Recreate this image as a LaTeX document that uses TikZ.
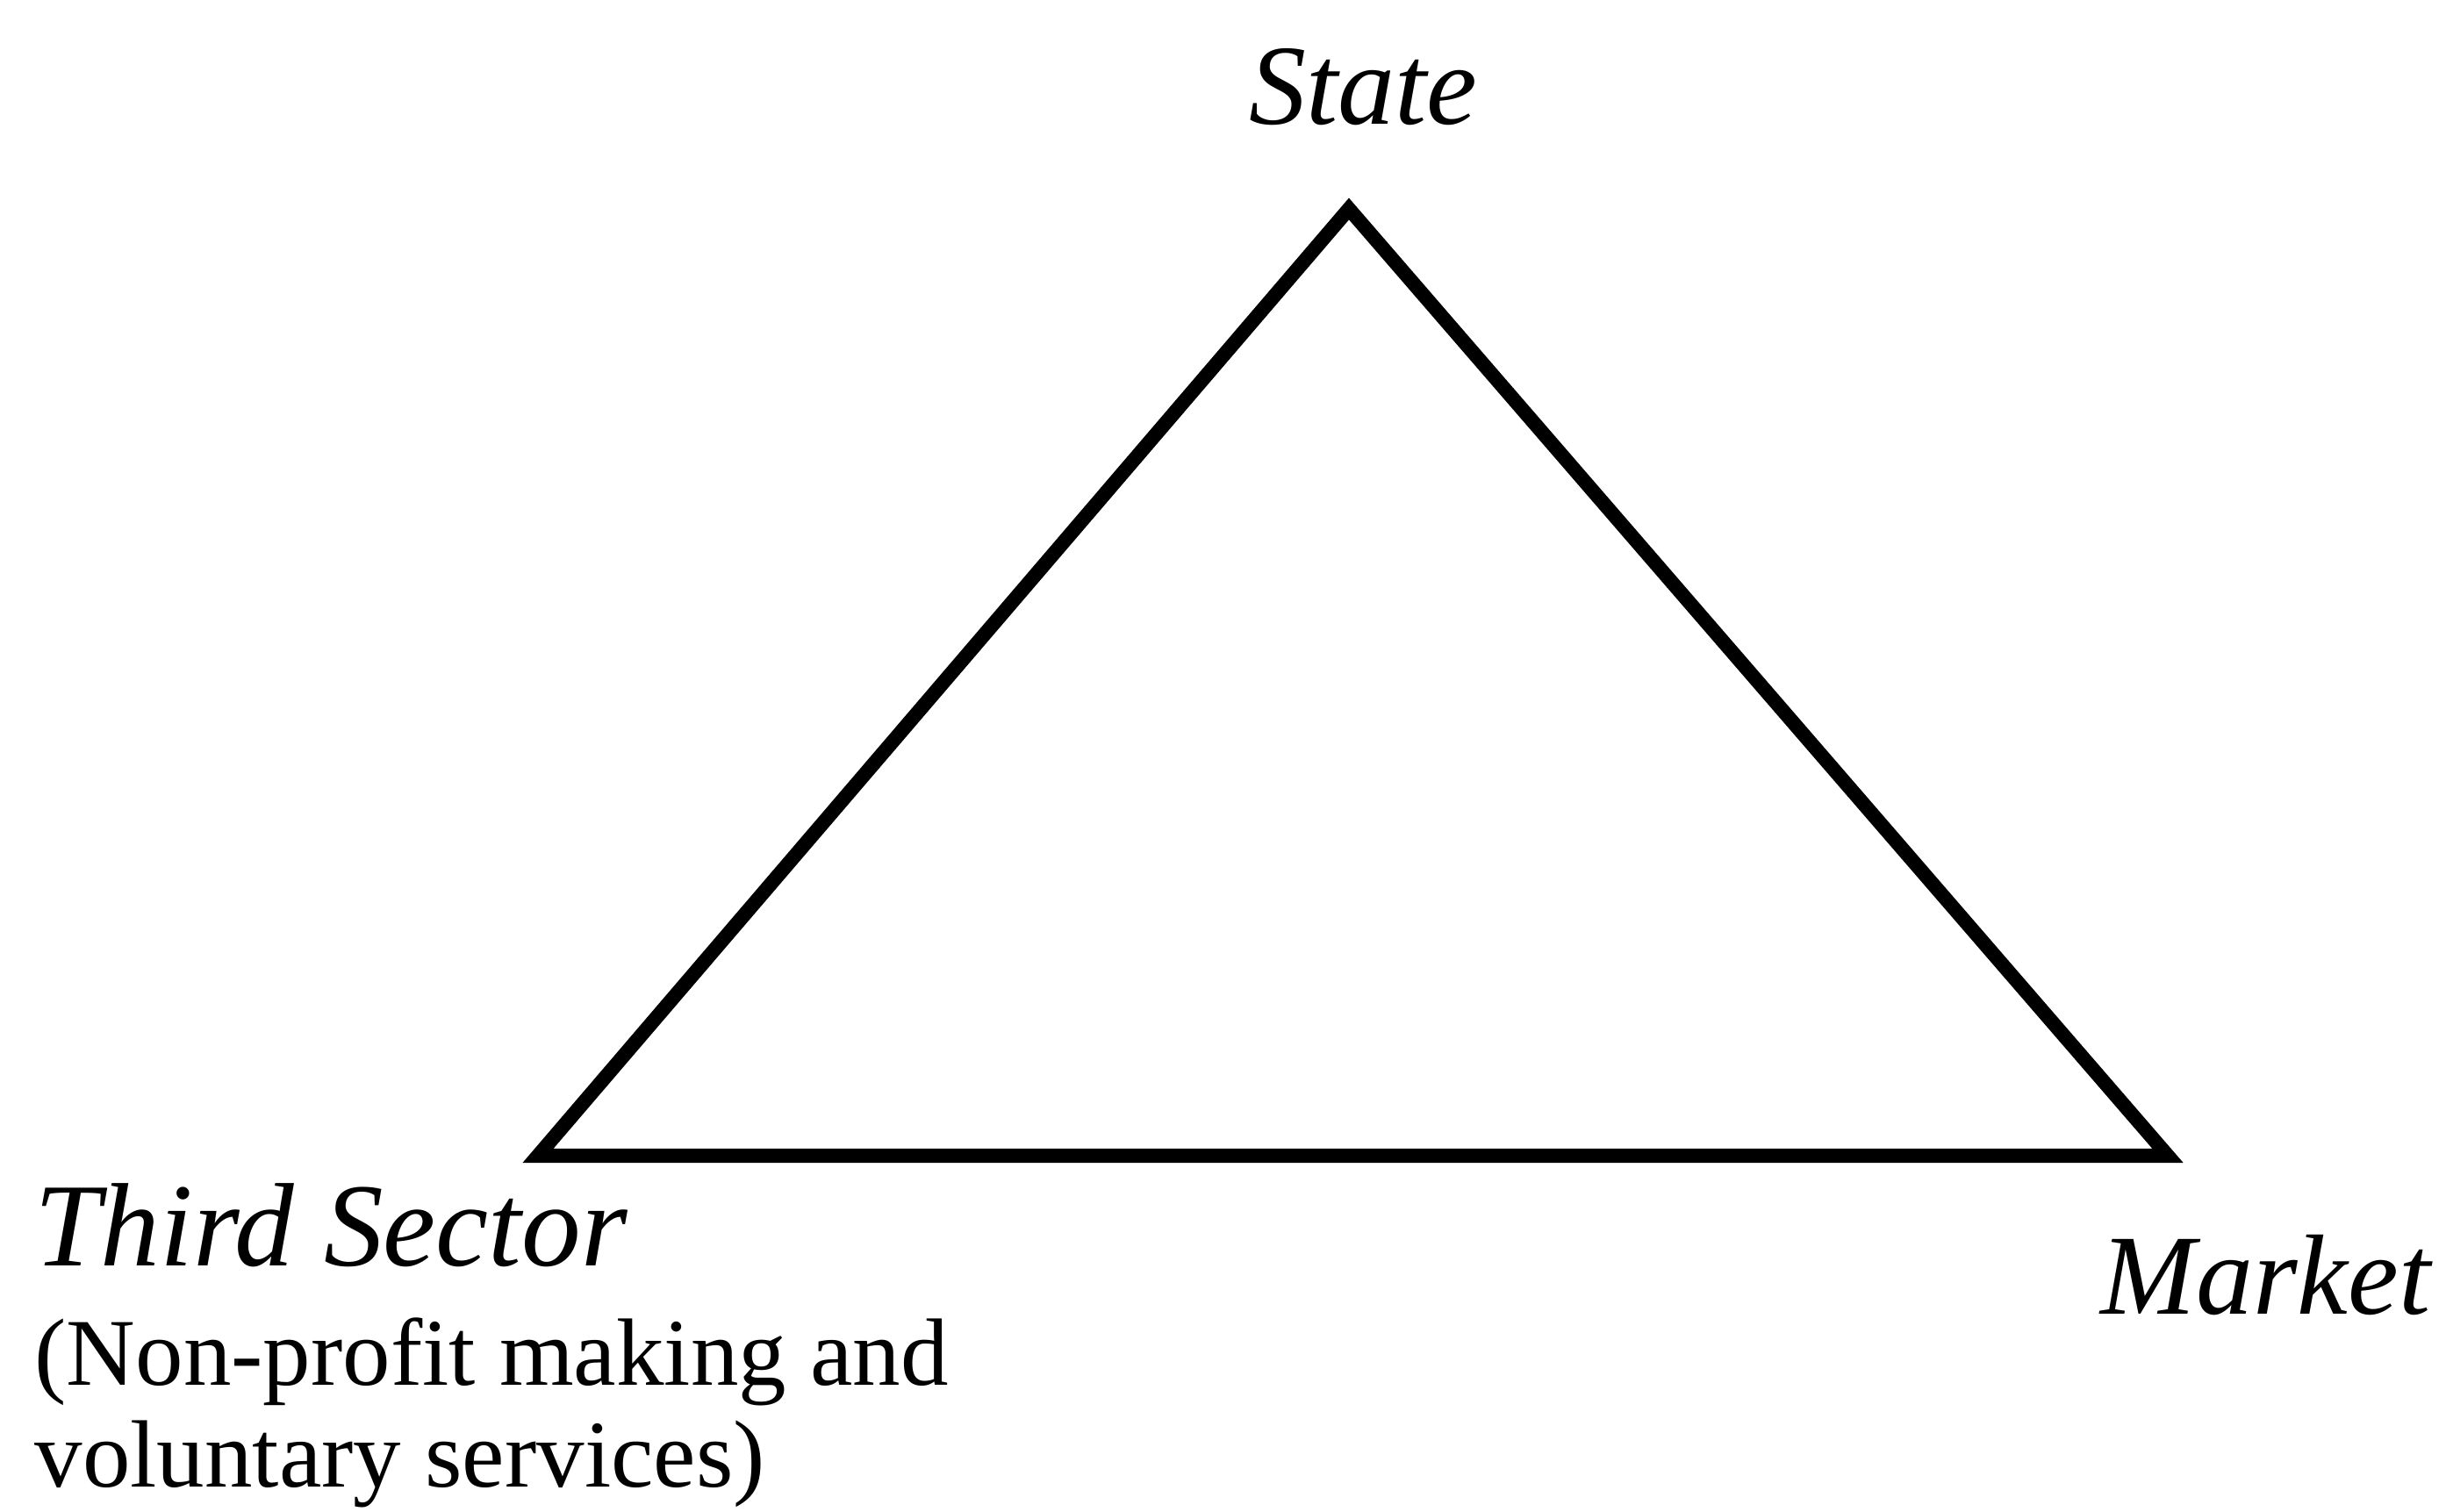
\documentclass[tikz,border=0pt]{standalone}
\usepackage{fontspec}
\setmainfont{Liberation Serif}
\usetikzlibrary{positioning}

\begin{document}
\begin{tikzpicture}[
    corner/.style={font=\itshape\fontsize{37}{40}\selectfont, inner sep=0pt},
    bigcorner/.style={font=\itshape\fontsize{38.5}{42}\selectfont, inner sep=0pt},
    note/.style={font=\fontsize{31}{32}\selectfont, inner sep=0pt, anchor=base west},
    side/.style={line width=4.6pt, line join=miter}
]
\useasboundingbox (0,0) rectangle (27.87,17.23);

\coordinate (apex) at (15.37,14.85);
\coordinate (tsc) at (6.13,4.06);
\coordinate (mkt) at (24.70,4.06);

\draw[side] (apex) -- (mkt) -- (tsc) -- cycle;

\node[corner, anchor=base] (state) at (15.53,15.81) {State};
\node[bigcorner, anchor=base west] (third) at (0.39,2.80) {Third Sector};
\node[note] (nonprofit) at (0.39,1.44) {(Non-profit making and};
\node[note] (voluntary) at (0.39,0.28) {voluntary services)};
\node[corner, anchor=base east] (market) at (27.70,2.25) {Market};

\end{tikzpicture}
\end{document}
